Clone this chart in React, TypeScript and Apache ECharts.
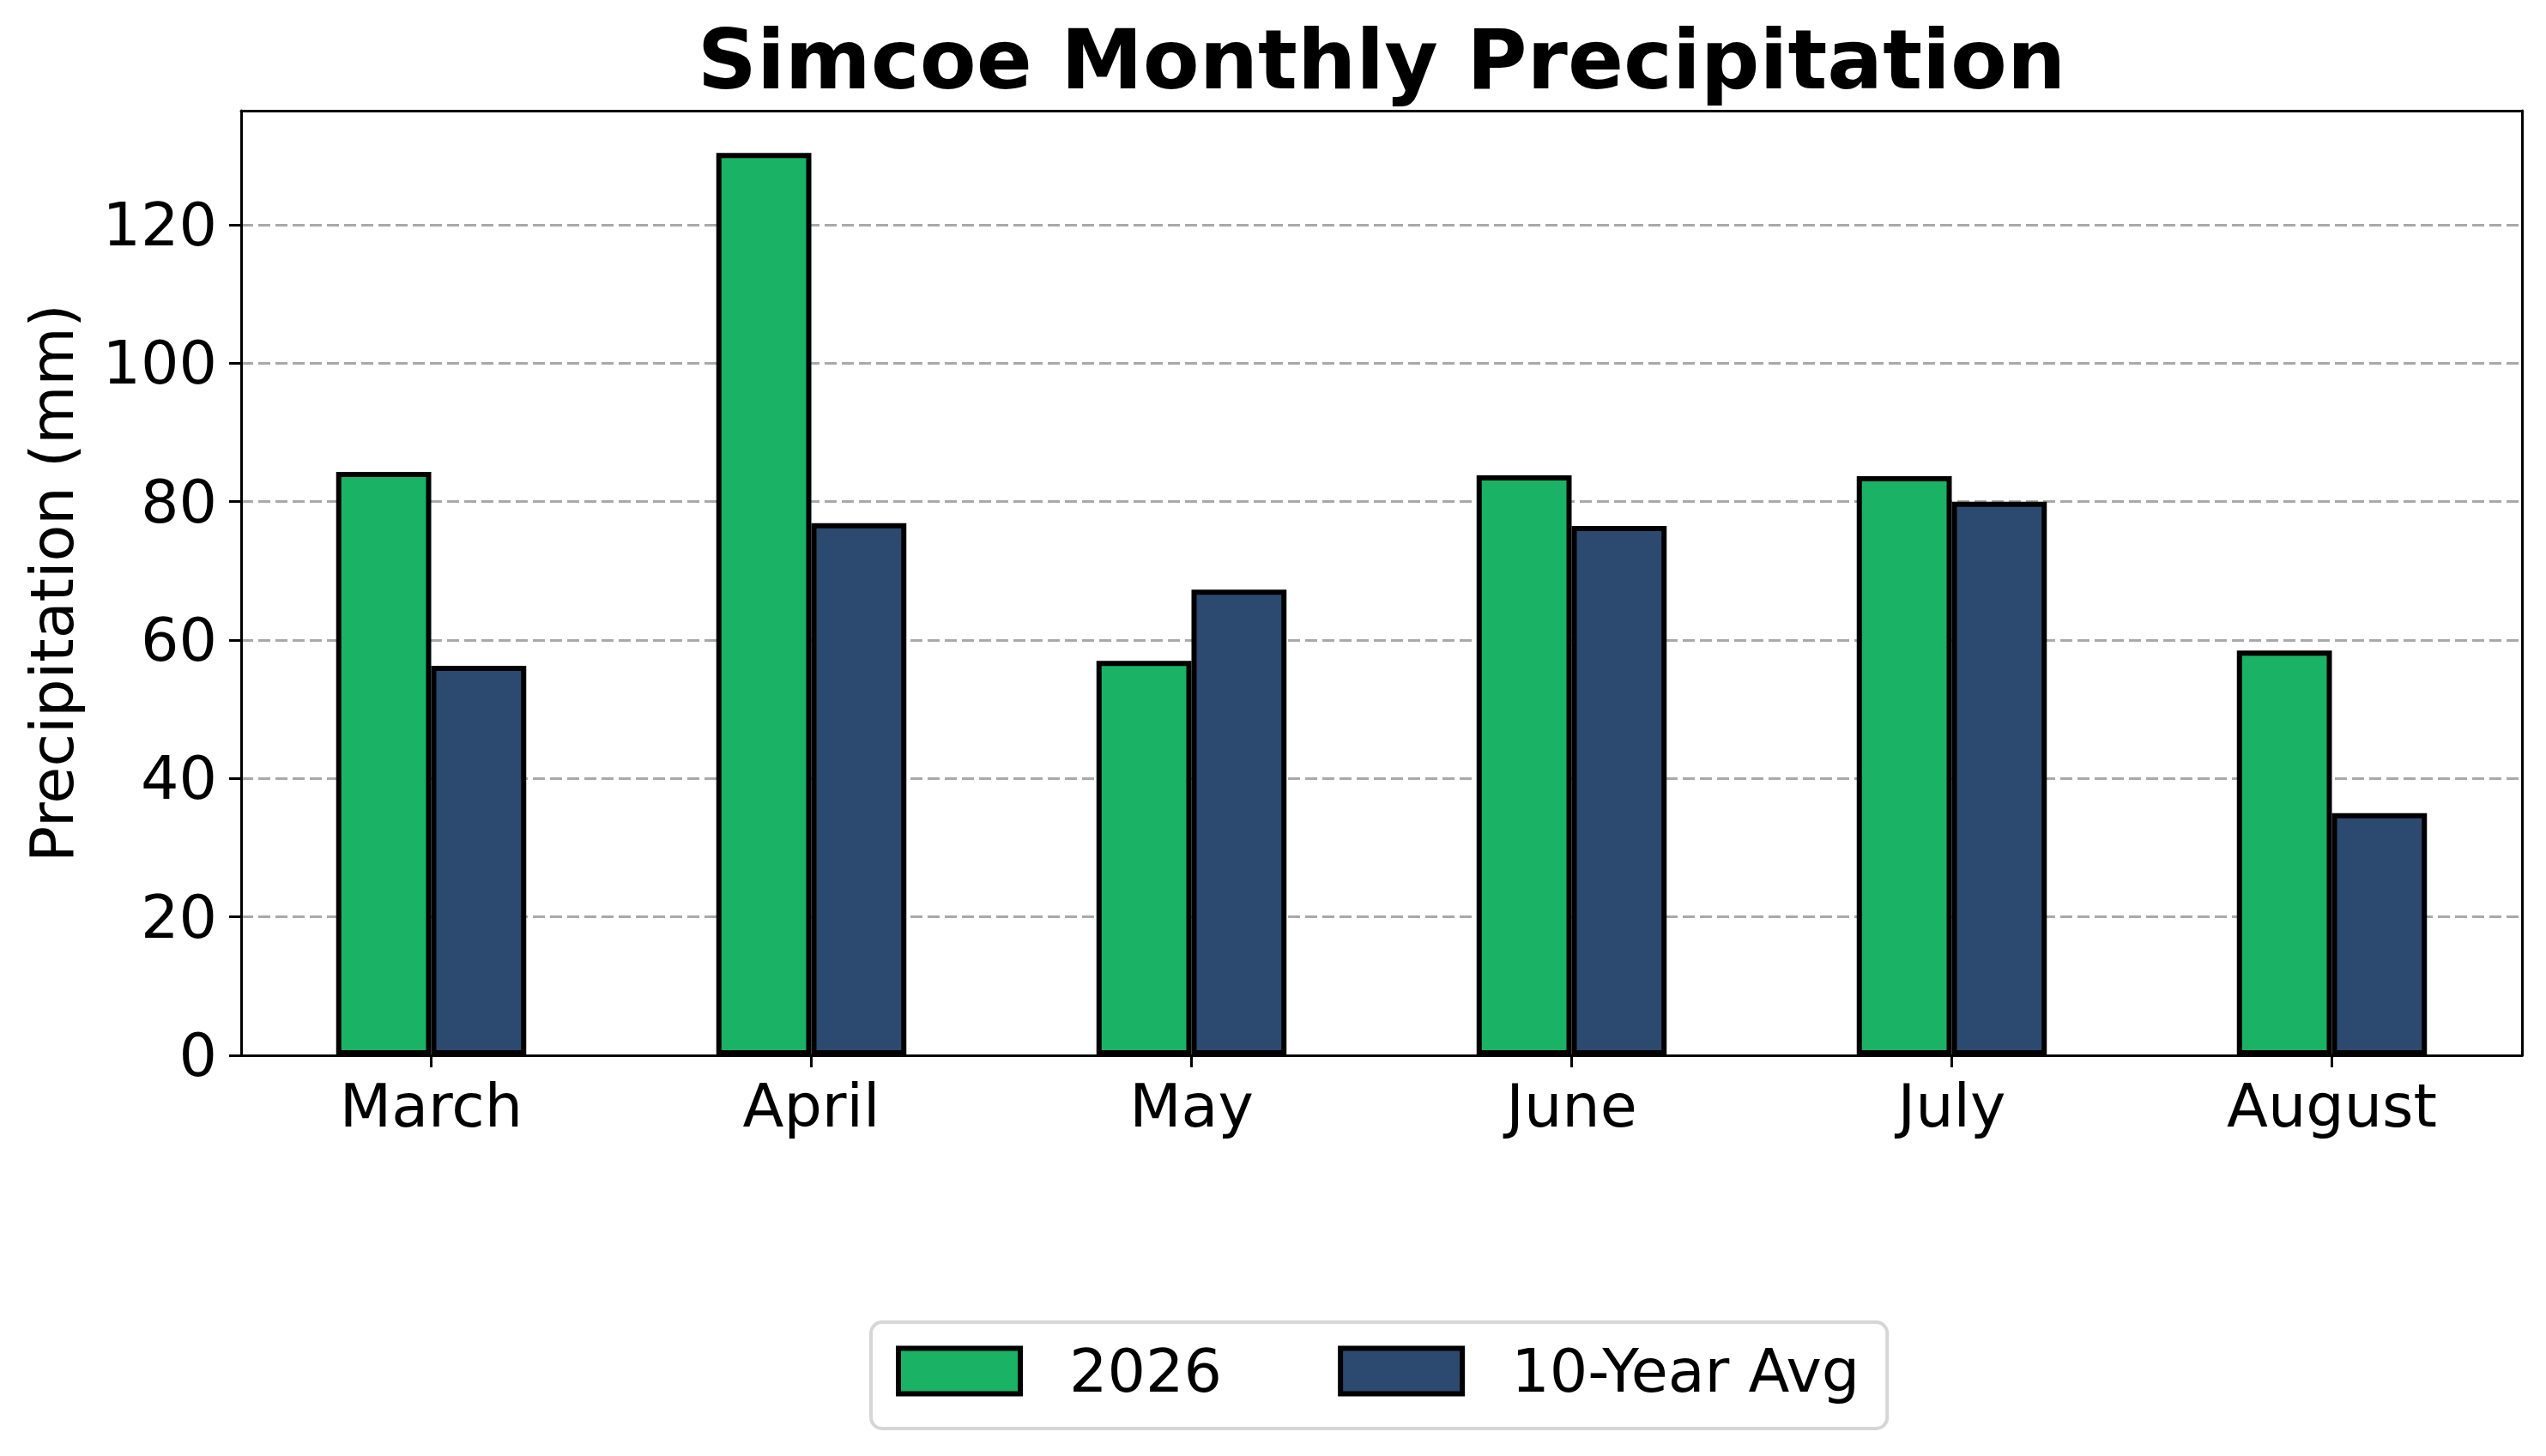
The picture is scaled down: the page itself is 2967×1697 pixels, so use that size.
import React, { useEffect, useRef } from "react";
import * as echarts from "echarts";

const categories = ["March", "April", "May", "June", "July", "August"];
const values2026 = [84.3, 130.4, 57.0, 83.8, 83.7, 58.5];
const valuesAvg = [56.3, 76.9, 67.3, 76.5, 80.0, 35.0];
const yTicks = [0, 20, 40, 60, 80, 100, 120];
const yMax = 136.5;
const seriesNames = ["2026", "10-Year Avg"];
const seriesColors = ["#1AB265", "#2C4A6F"];

export default function App() {
  const ref = useRef<HTMLDivElement>(null);
  useEffect(() => {
    const chart = echarts.init(ref.current!, null, { renderer: "svg" });
    const font = "DejaVu Sans";
    const frame = { show: true, onZero: false, lineStyle: { color: "#000", width: 3 } };
    chart.setOption({
      animation: false,
      backgroundColor: "#fff",
      textStyle: { fontFamily: font },
      grid: { left: 281, right: 28, top: 129, bottom: 467, containLabel: false },
      graphic: [
        {
          type: "text",
          x: 1610,
          y: 70,
          style: {
            text: "Simcoe Monthly Precipitation",
            fontFamily: font,
            fontWeight: "bold",
            fontSize: 96,
            fill: "#000",
            textAlign: "center",
            textVerticalAlign: "middle",
          },
        },
      ],
      legend: {
        left: 1015,
        top: 1541,
        orient: "horizontal",
        icon: "rect",
        itemWidth: 142,
        itemHeight: 53,
        itemGap: 135,
        padding: [22, 32, 32, 29],
        borderColor: "#d6d6d6",
        borderWidth: 4,
        borderRadius: 13,
        backgroundColor: "#fff",
        itemStyle: { borderColor: "#000", borderWidth: 6 },
        textStyle: { fontSize: 70, color: "#000", fontFamily: font, padding: [0, 0, 0, 52] },
        data: seriesNames,
      },
      xAxis: [
        {
          type: "category",
          data: categories,
          boundaryGap: true,
          axisLine: frame,
          axisTick: { show: true, alignWithLabel: true, length: 14, lineStyle: { color: "#000", width: 3 } },
          axisLabel: { fontSize: 70, color: "#000", margin: 24, fontFamily: font },
          splitLine: { show: false },
        },
        {
          type: "category",
          data: categories,
          position: "top",
          axisLine: frame,
          axisTick: { show: false },
          axisLabel: { show: false },
          splitLine: { show: false },
        },
      ],
      yAxis: [
        {
          type: "value",
          min: 0,
          max: yMax,
          interval: 20,
          name: "Precipitation (mm)",
          nameLocation: "middle",
          nameRotate: 90,
          nameGap: 185,
          nameTextStyle: { fontSize: 70, color: "#000", fontFamily: font },
          axisLine: frame,
          axisTick: {
            show: true,
            length: 14,
            customValues: yTicks,
            lineStyle: { color: "#000", width: 3 },
          },
          axisLabel: {
            fontSize: 70,
            color: "#000",
            margin: 28,
            fontFamily: font,
            customValues: yTicks,
          },
          splitLine: {
            show: true,
            showMinLine: false,
            lineStyle: { color: "#a9a9a9", width: 2.8, type: [14, 6] },
          },
        },
        {
          type: "value",
          position: "right",
          min: 0,
          max: yMax,
          interval: 20,
          axisLine: frame,
          axisTick: { show: false },
          axisLabel: { show: false },
          splitLine: { show: false },
        },
      ],
      series: [
        {
          name: seriesNames[0],
          type: "bar",
          data: values2026,
          barWidth: "25%",
          barGap: "0%",
          itemStyle: { color: seriesColors[0], borderColor: "#000", borderWidth: 6 },
        },
        {
          name: seriesNames[1],
          type: "bar",
          data: valuesAvg,
          barWidth: "25%",
          barGap: "0%",
          itemStyle: { color: seriesColors[1], borderColor: "#000", borderWidth: 6 },
        },
      ],
    });
    return () => chart.dispose();
  }, []);
  return (
    <div
      ref={ref}
      style={{ position: "absolute", left: 0, top: 0, width: 2967, height: 1697 }}
    />
  );
}
